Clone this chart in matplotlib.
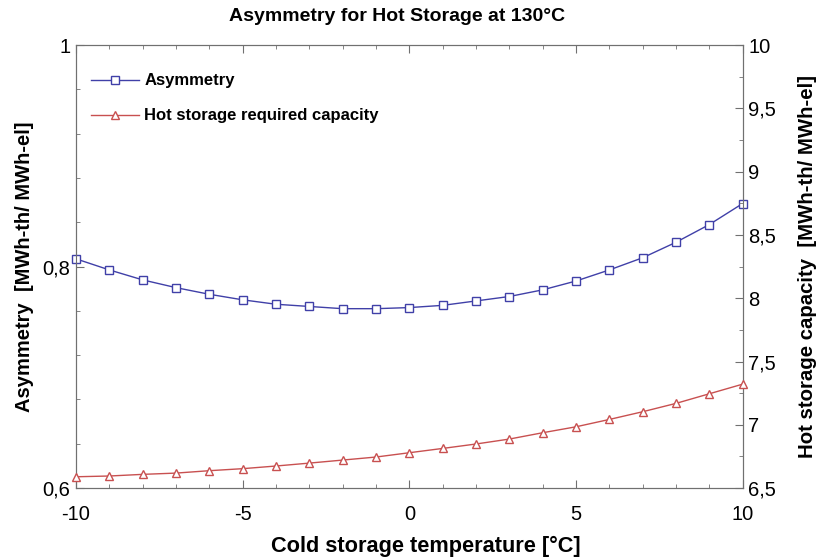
import matplotlib
matplotlib.use("Agg")
import matplotlib.pyplot as plt
from matplotlib.ticker import FuncFormatter, MultipleLocator

plt.rcParams['font.family'] = ['Liberation Sans', 'DejaVu Sans']
plt.rcParams['axes.unicode_minus'] = False

# cold storage temperature [°C]
temp = list(range(-10, 11))
asymmetry = [0.807, 0.797, 0.788, 0.781, 0.775, 0.770, 0.766, 0.764, 0.762, 0.762, 0.763,
             0.765, 0.769, 0.773, 0.779, 0.787, 0.797, 0.808, 0.822, 0.838, 0.857]
hot_capacity = [6.589, 6.595, 6.608, 6.618, 6.637, 6.653, 6.674, 6.697, 6.721, 6.745, 6.779,
                6.813, 6.848, 6.887, 6.937, 6.984, 7.042, 7.103, 7.169, 7.245, 7.321]


def comma(v, pos):
    s = ('%g' % round(v, 3))
    return s.replace('.', ',')


fig = plt.figure(figsize=(8.22, 5.58), dpi=100)
ax = fig.add_axes([0.0925, 0.1254, 0.811, 0.7936])
ax2 = ax.twinx()

blue = '#4040a8'
red = '#c85050'
frame = '#707070'
l1, = ax.plot(temp, asymmetry, color=blue, lw=1, marker='s', ms=6,
              mfc='white', mec=blue, mew=1, label='Asymmetry', clip_on=False, zorder=3)
l2, = ax2.plot(temp, hot_capacity, color=red, lw=1, marker='^', ms=6,
               mfc='white', mec=red, mew=1, label='Hot storage required capacity',
               clip_on=False, zorder=3)

ax.set_xlim(-10, 10)
ax.set_ylim(0.6, 1.0)
ax2.set_ylim(6.5, 10)

ax.xaxis.set_major_locator(MultipleLocator(5))
ax.xaxis.set_minor_locator(MultipleLocator(1))
ax.yaxis.set_major_locator(MultipleLocator(0.2))
ax.yaxis.set_minor_locator(MultipleLocator(0.04))
ax2.yaxis.set_major_locator(MultipleLocator(0.5))
ax2.yaxis.set_minor_locator(MultipleLocator(0.25))
ax.yaxis.set_major_formatter(FuncFormatter(comma))
ax2.yaxis.set_major_formatter(FuncFormatter(comma))

for a in (ax, ax2):
    for sp in a.spines.values():
        sp.set_color(frame)
    a.tick_params(which='both', direction='in', color=frame, labelsize=14.5)
    a.tick_params(which='major', length=6)
    a.tick_params(which='minor', length=3)
ax.tick_params(axis='x', which='both', top=True, pad=12)
ax.tick_params(axis='y', which='both', left=True, right=False, pad=4)
ax2.tick_params(axis='y', which='both', pad=4)

ax.set_xlabel('Cold storage temperature [°C]', fontsize=15.7, fontweight='bold', va='center')
ax.xaxis.set_label_coords(0.524, -0.133)
ax.set_ylabel('Asymmetry  [MWh-th/ MWh-el]', fontsize=14.5, fontweight='bold', labelpad=6)
ax2.set_ylabel('Hot storage capacity  [MWh-th/ MWh-el]', fontsize=14.7, fontweight='bold', labelpad=16)
fig.text(0.483, 0.971, 'Asymmetry for Hot Storage at 130°C', fontsize=14, fontweight='bold',
         ha='center', va='center')

leg = ax.legend(handles=[l1, l2], loc='upper left', bbox_to_anchor=(0.0, 0.97),
                frameon=False, handlelength=2.9, fontsize=12, labelspacing=1.2,
                handletextpad=0.3)
for t in leg.get_texts():
    t.set_fontweight('bold')

fig.savefig('out.png', dpi=100)
